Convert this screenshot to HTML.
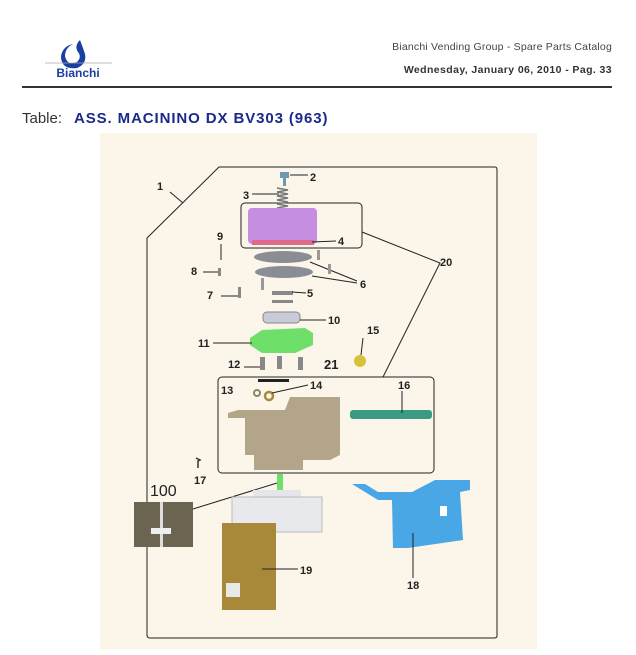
<!DOCTYPE html>
<html><head><meta charset="utf-8"><style>
body{margin:0;width:636px;height:650px;background:#fff;overflow:hidden;font-family:"Liberation Sans",sans-serif;}
</style></head><body>
<svg width="636" height="650" viewBox="0 0 636 650" xmlns="http://www.w3.org/2000/svg" font-family="Liberation Sans, sans-serif">
<!-- header -->
<g fill="#1b3fa0">
<path d="M80 40 q-6 6 -2 12 q4 5 -1 10 q-10 4 -12 -6 q0 -8 8 -12 q-10 2 -12 12 q0 14 16 12 q10 -4 8 -14 q-2 -6 -5 -14z"/>
</g>
<line x1="45" y1="63" x2="112" y2="63" stroke="#aaa" stroke-width="0.7"/>
<text x="78" y="77" font-size="12" font-weight="bold" fill="#1b3fa0" text-anchor="middle">Bianchi</text>
<text x="612" y="50" font-size="10.5" fill="#444" text-anchor="end" letter-spacing="0.2">Bianchi Vending Group - Spare Parts Catalog</text>
<text x="612" y="73" font-size="10.5" font-weight="bold" fill="#333" text-anchor="end" letter-spacing="0.4">Wednesday, January 06, 2010 - Pag.  33</text>
<rect x="22" y="86" width="590" height="2" fill="#333"/>
<text x="22" y="123" font-size="15" fill="#333">Table:</text>
<text x="74" y="123" font-size="15" font-weight="bold" fill="#1a2a8a" letter-spacing="0.9">ASS. MACININO DX BV303 (963)</text>
<!-- diagram bg -->
<rect x="100" y="133" width="437" height="517" fill="#fbf5ea"/>
<path d="M147 238 L219 167 L495 167 Q497 167 497 170 L497 636 Q497 638 494 638 L150 638 Q147 638 147 635 Z" fill="none" stroke="#222" stroke-width="1"/>
<line x1="170" y1="192" x2="183" y2="203" stroke="#222"/>
<g font-size="11" font-weight="bold" fill="#222">
<text x="157" y="190">1</text><text x="310" y="181">2</text><text x="243" y="199">3</text>
<text x="338" y="245">4</text><text x="307" y="297">5</text><text x="360" y="288">6</text>
<text x="207" y="299">7</text><text x="191" y="275">8</text><text x="217" y="240">9</text>
<text x="328" y="324">10</text><text x="198" y="347">11</text><text x="228" y="368">12</text>
<text x="221" y="394">13</text><text x="310" y="389">14</text><text x="367" y="334">15</text>
<text x="398" y="389">16</text><text x="194" y="484">17</text><text x="407" y="589">18</text>
<text x="300" y="574">19</text><text x="440" y="266">20</text><text x="324" y="369" font-size="13">21</text>
<text x="150" y="496" font-size="16" font-weight="normal">100</text>
</g>
<!-- boxes -->
<rect x="241" y="203" width="121" height="45" rx="4" fill="none" stroke="#222"/>
<rect x="218" y="377" width="216" height="96" rx="4" fill="none" stroke="#222"/>
<polyline points="362,232 440,263 383,377" fill="none" stroke="#222"/>
<!-- parts -->
<rect x="280" y="172" width="9" height="6" fill="#6b9bb0"/><rect x="283" y="178" width="3" height="8" fill="#6b9bb0"/>
<line x1="290" y1="175" x2="308" y2="175" stroke="#222"/>
<path d="M277 188 l11 2 l-11 2 l11 2 l-11 2 l11 2 l-11 2 l11 2 l-11 2 l11 2 l-11 2" fill="none" stroke="#777" stroke-width="1.5"/>
<line x1="252" y1="194" x2="279" y2="194" stroke="#222"/>
<rect x="248" y="208" width="69" height="36" rx="4" fill="#c58ee0"/>
<rect x="252" y="240" width="62" height="5" fill="#e06a8a"/>
<line x1="312" y1="242" x2="336" y2="241" stroke="#222"/>
<ellipse cx="283" cy="257" rx="29" ry="6" fill="#8a8e94"/>
<ellipse cx="284" cy="272" rx="29" ry="6" fill="#8a8e94"/>
<line x1="310" y1="262" x2="357" y2="281" stroke="#222"/><line x1="312" y1="276" x2="357" y2="283" stroke="#222"/>
<rect x="317" y="250" width="3" height="10" fill="#999"/><rect x="328" y="264" width="3" height="10" fill="#999"/><rect x="261" y="278" width="3" height="12" fill="#999"/>
<rect x="272" y="291" width="21" height="4" fill="#888"/><rect x="272" y="300" width="21" height="3" fill="#888"/>
<line x1="292" y1="292" x2="306" y2="293" stroke="#222"/>
<rect x="238" y="287" width="3" height="11" fill="#888"/><line x1="221" y1="296" x2="238" y2="296" stroke="#222"/>
<rect x="218" y="268" width="3" height="8" fill="#888"/><line x1="203" y1="272" x2="218" y2="272" stroke="#222"/>
<line x1="221" y1="244" x2="221" y2="260" stroke="#222"/>
<rect x="263" y="312" width="37" height="11" rx="4" fill="#c9ccd8" stroke="#888"/>
<line x1="300" y1="320" x2="326" y2="320" stroke="#222"/>
<path d="M250 338 L262 330 L305 328 L313 333 L313 345 L295 353 L262 353 L250 345Z" fill="#6ee06a"/>
<line x1="213" y1="343" x2="252" y2="343" stroke="#222"/>
<rect x="260" y="357" width="5" height="13" fill="#888"/><rect x="277" y="356" width="5" height="13" fill="#888"/><rect x="298" y="357" width="5" height="13" fill="#888"/>
<line x1="244" y1="367" x2="260" y2="367" stroke="#222"/>
<circle cx="360" cy="361" r="6" fill="#d8c238"/><line x1="363" y1="338" x2="361" y2="355" stroke="#222"/>
<rect x="258" y="379" width="31" height="3" fill="#222"/>
<circle cx="257" cy="393" r="3" fill="none" stroke="#886" stroke-width="2"/>
<circle cx="269" cy="396" r="4" fill="none" stroke="#a8893a" stroke-width="2.5"/>
<line x1="272" y1="393" x2="308" y2="385" stroke="#222"/>
<path d="M228 413 L238 410 L285 410 L290 397 L340 397 L340 455 L330 460 L303 460 L303 470 L254 470 L254 455 L245 455 L245 418 L228 418Z" fill="#b3a58a"/>
<rect x="350" y="410" width="82" height="9" rx="3" fill="#3a9a84"/>
<line x1="402" y1="391" x2="402" y2="413" stroke="#222"/>
<path d="M196 458 l4 2 l-2 1 l0 7" stroke="#333" fill="none" stroke-width="1.5"/>
<rect x="277" y="474" width="6" height="18" fill="#6ee06a"/>
<line x1="193" y1="509" x2="277" y2="483" stroke="#222"/>
<rect x="134" y="502" width="59" height="45" fill="#6b6450"/>
<rect x="160" y="502" width="3" height="45" fill="#ddd"/><rect x="151" y="528" width="20" height="6" fill="#eee"/>
<rect x="253" y="490" width="48" height="10" fill="#e4e6ea"/>
<rect x="232" y="497" width="90" height="35" fill="#e8e9ec" stroke="#bbb"/>
<rect x="222" y="523" width="54" height="87" fill="#a8893a"/>
<rect x="226" y="583" width="14" height="14" fill="#e8e8e8"/>
<line x1="262" y1="569" x2="298" y2="569" stroke="#222"/>
<path d="M352 484 L365 484 L378 492 L412 492 L435 480 L470 480 L470 490 L460 492 L463 540 L408 548 L393 548 L392 500 L378 500 Z" fill="#4aa7e6"/>
<rect x="440" y="506" width="7" height="10" fill="#fff"/>
<line x1="413" y1="533" x2="413" y2="578" stroke="#222"/>
</svg>
</body></html>
